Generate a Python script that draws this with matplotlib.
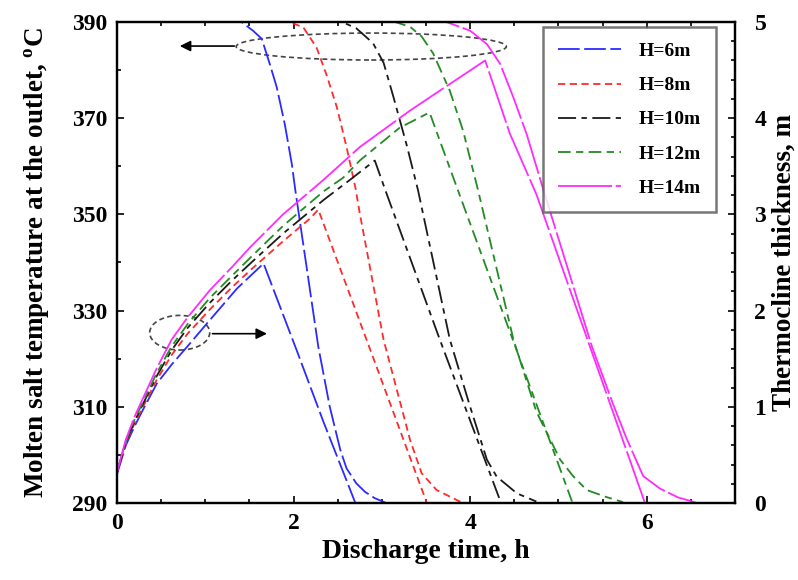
import matplotlib
matplotlib.use("Agg")
import matplotlib.pyplot as plt
from matplotlib.patches import Ellipse
from matplotlib.ticker import MultipleLocator, FixedLocator

plt.rcParams['font.family'] = ['Liberation Serif', 'DejaVu Serif']
plt.rcParams['font.weight'] = 'bold'
plt.rcParams['mathtext.fontset'] = 'custom'
plt.rcParams['mathtext.rm'] = 'Liberation Serif:bold'

labels = ["H=6m", "H=8m", "H=10m", "H=12m", "H=14m"]
left_ticks = [290, 310, 330, 350, 370, 390]

# outlet temperature (left axis, degC) vs discharge time (h)
temp_t_6 = [0, 1.41, 1.54, 1.64, 1.73, 1.81, 1.90, 1.98, 2.02, 2.28, 2.41, 2.53, 2.60, 2.71, 2.81, 2.92, 3.05]
temp_T_6 = [390, 390, 388.2, 386.5, 381.3, 376.4, 368.8, 360.5, 355.0, 322.5, 310.0, 301.0, 297.2, 294.1, 292.3, 291.0, 290.0]
temp_t_8 = [0, 1.95, 2.11, 2.26, 2.37, 2.49, 2.60, 2.70, 2.75, 3.02, 3.32, 3.45, 3.62, 3.85, 3.92]
temp_T_8 = [390, 390, 388.9, 384.7, 379.2, 372.3, 364.0, 355.6, 350.2, 323.9, 303.1, 296.2, 292.7, 290.6, 290.0]
temp_t_10 = [0, 2.55, 2.71, 2.90, 3.02, 3.13, 3.28, 3.41, 3.77, 4.00, 4.19, 4.30, 4.53, 4.75]
temp_T_10 = [390, 390, 388.7, 385.6, 381.5, 374.5, 364.5, 355.0, 324.0, 310.0, 299.0, 295.5, 292.0, 290.3]
temp_t_12 = [0, 3.15, 3.32, 3.45, 3.58, 3.77, 3.92, 4.09, 4.49, 4.75, 5.02, 5.17, 5.32, 5.55, 5.73]
temp_T_12 = [390, 390, 389.0, 387.0, 383.5, 375.7, 367.4, 355.0, 324.0, 309.0, 299.0, 295.5, 292.7, 291.2, 290.2]
temp_t_14 = [0, 3.73, 4.00, 4.19, 4.34, 4.49, 4.64, 4.81, 5.00, 5.38, 5.62, 5.77, 5.89, 5.96, 6.15, 6.35, 6.57]
temp_T_14 = [390, 390, 388.2, 385.4, 381.3, 374.3, 366.7, 356.3, 345.0, 322.5, 310.5, 303.5, 298.5, 295.6, 293.0, 291.2, 290.0]

# thermocline thickness (right axis, m) vs discharge time (h)
thick_t_6 = [0, 0.1, 0.2, 0.3, 0.45, 0.62, 0.8, 1.05, 1.36, 1.66, 2.03, 2.34, 2.70]
thick_h_6 = [0.30, 0.60, 0.80, 0.98, 1.24, 1.44, 1.63, 1.90, 2.23, 2.49, 1.60, 0.84, 0.0]
thick_t_8 = [0, 0.1, 0.2, 0.3, 0.45, 0.62, 0.8, 1.05, 1.3, 1.51, 1.88, 2.19, 2.28, 2.87, 3.51]
thick_h_8 = [0.32, 0.62, 0.83, 1.01, 1.28, 1.54, 1.76, 2.01, 2.24, 2.42, 2.72, 2.96, 3.05, 1.59, 0.0]
thick_t_10 = [0, 0.1, 0.2, 0.3, 0.45, 0.62, 0.8, 1.05, 1.3, 1.51, 1.88, 2.34, 2.64, 2.92, 3.04, 3.66, 4.35]
thick_h_10 = [0.32, 0.63, 0.85, 1.04, 1.32, 1.59, 1.82, 2.08, 2.31, 2.49, 2.80, 3.15, 3.36, 3.56, 3.25, 1.69, 0.0]
thick_t_12 = [0, 0.1, 0.2, 0.3, 0.45, 0.62, 0.8, 1.05, 1.3, 1.51, 1.88, 2.34, 2.56, 2.75, 3.20, 3.54, 3.85, 4.53, 5.16]
thick_h_12 = [0.32, 0.64, 0.87, 1.06, 1.35, 1.63, 1.86, 2.13, 2.36, 2.55, 2.88, 3.24, 3.38, 3.56, 3.90, 4.06, 3.28, 1.58, 0.0]
thick_t_14 = [0, 0.1, 0.2, 0.3, 0.45, 0.62, 0.8, 1.05, 1.3, 1.51, 1.88, 2.34, 2.75, 3.32, 3.81, 4.17, 4.45, 4.75, 5.98]
thick_h_14 = [0.32, 0.66, 0.90, 1.10, 1.40, 1.70, 1.93, 2.21, 2.45, 2.66, 3.00, 3.36, 3.70, 4.08, 4.38, 4.60, 3.84, 3.21, 0.0]

temp_t = [temp_t_6, temp_t_8, temp_t_10, temp_t_12, temp_t_14]
temp_T = [temp_T_6, temp_T_8, temp_T_10, temp_T_12, temp_T_14]
thick_t = [thick_t_6, thick_t_8, thick_t_10, thick_t_12, thick_t_14]
thick_h = [thick_h_6, thick_h_8, thick_h_10, thick_h_12, thick_h_14]

colors = ["#2b2bff", "#ff2b2b", "#1a1a1a", "#238b23", "#ff2bff"]
styles = [(0, (12, 2.5)), (0, (4, 2.5)), (0, (10, 3, 3, 3)), (0, (7, 3, 4, 3)), (0, (30, 2))]

fig = plt.figure(figsize=(7.98, 5.80), dpi=100)
ax = fig.add_axes([117/798, 1 - 503/580, (735 - 117)/798, (503 - 22)/580])
ax2 = ax.twinx()

handles = []
for i in range(5):
    h, = ax.plot(temp_t[i], temp_T[i], color=colors[i], ls=styles[i], lw=1.3, label=labels[i])
    ax2.plot(thick_t[i], thick_h[i], color=colors[i], ls=styles[i], lw=1.3)
    handles.append(h)

ax.set_xlim(0, 7)
ax.set_ylim(290, 390)
ax2.set_ylim(0, 5)

ax.xaxis.set_major_locator(MultipleLocator(2))
ax.xaxis.set_minor_locator(MultipleLocator(0.5))
ax.yaxis.set_major_locator(FixedLocator(left_ticks))
ax.yaxis.set_minor_locator(MultipleLocator(10))
ax2.yaxis.set_major_locator(MultipleLocator(1))
ax2.yaxis.set_minor_locator(MultipleLocator(0.2))

for a in (ax, ax2):
    for s in a.spines.values():
        s.set_linewidth(1.6)
ax.tick_params(which='both', direction='in', top=True, right=False, width=1.2, labelsize=17, pad=7)
ax.tick_params(which='major', length=5)
ax.tick_params(which='minor', length=3)
ax2.tick_params(which='both', direction='in', width=1.2, labelsize=17, pad=14)
ax2.tick_params(which='major', length=5)
ax2.tick_params(which='minor', length=3)

ax.set_xlabel("Discharge time, h", fontsize=20, fontweight='bold', labelpad=4)
ax.set_ylabel("Molten salt temperature at the outlet, $^{\\rm o}$C", fontsize=19.5,
              fontweight='bold', labelpad=14)
ax2.set_ylabel("Thermocline thickness, m", fontsize=19.5, fontweight='bold', labelpad=4)

# annotations
ax.add_patch(Ellipse((2.88, 384.9), 3.06, 5.6, fill=False, ec="#444444", ls=(0, (3, 2)), lw=1.2))
ax.annotate("", xy=(0.68, 385.0), xytext=(1.36, 385.0),
            arrowprops=dict(arrowstyle="-|>", color="black", lw=1.2, mutation_scale=16))
ax2.add_patch(Ellipse((0.71, 1.77), 0.68, 0.36, fill=False, ec="#444444", ls=(0, (3, 2)), lw=1.2))
ax2.annotate("", xy=(1.73, 1.76), xytext=(1.05, 1.76),
             arrowprops=dict(arrowstyle="-|>", color="black", lw=1.2, mutation_scale=16))

leg = ax2.legend(handles=handles, loc='upper right', bbox_to_anchor=(716/798, 1 - 27/580),
                 bbox_transform=fig.transFigure, borderaxespad=0, fontsize=14, frameon=True,
                 fancybox=False, handlelength=3.2, labelspacing=0.85, borderpad=0.8,
                 handletextpad=0.9)
leg.get_frame().set_edgecolor("#555555")
leg.get_frame().set_linewidth(1.8)
for t in leg.get_texts():
    t.set_fontweight('bold')

fig.savefig("out.png", dpi=100)
